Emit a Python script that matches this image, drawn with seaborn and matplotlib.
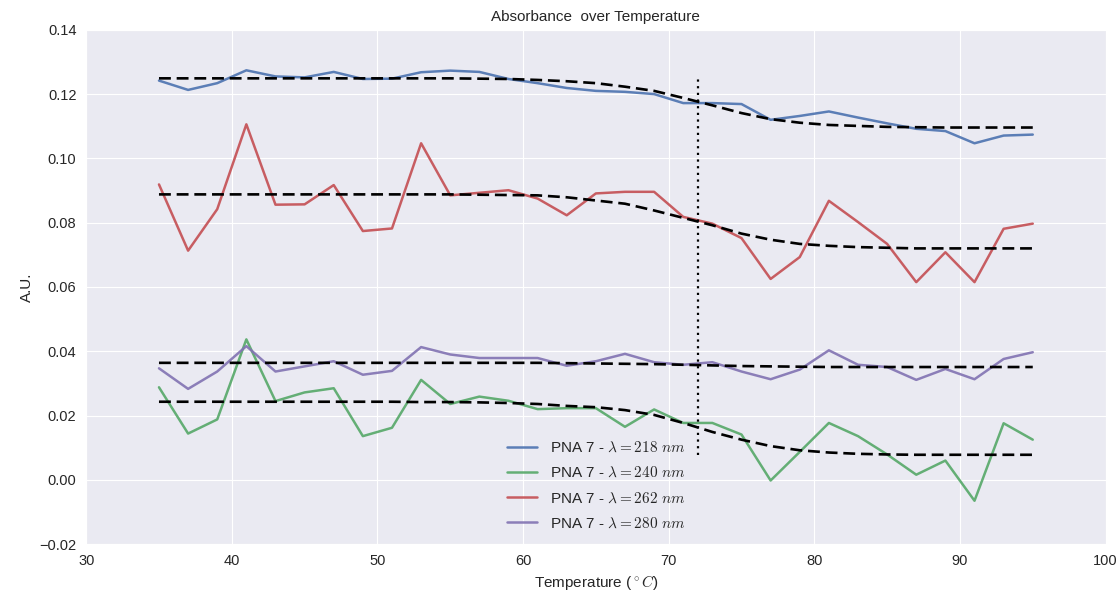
import numpy as np
import pandas as pd
import matplotlib
matplotlib.use('Agg')
import matplotlib.pyplot as plt
import seaborn as sns

# temperatures (degrees C)
temps = list(range(35, 96, 2))

# measured absorbance per wavelength
abs_218 = [0.1242, 0.1213, 0.1234, 0.1274, 0.1255, 0.1252, 0.1269, 0.1247, 0.1248, 0.1268,
           0.1273, 0.1269, 0.1247, 0.1234, 0.1219, 0.1210, 0.1207, 0.1200, 0.1172, 0.1172,
           0.1169, 0.1120, 0.1132, 0.1146, 0.1127, 0.1109, 0.1092, 0.1085, 0.1047, 0.1071,
           0.1074]
abs_240 = [0.0288, 0.0144, 0.0188, 0.0437, 0.0245, 0.0272, 0.0285, 0.0136, 0.0162, 0.0311,
           0.0236, 0.0259, 0.0246, 0.0220, 0.0223, 0.0223, 0.0165, 0.0219, 0.0177, 0.0177,
           0.0141, -0.0002, 0.0087, 0.0177, 0.0136, 0.0079, 0.0016, 0.0060, -0.0065, 0.0176,
           0.0125]
abs_262 = [0.0919, 0.0713, 0.0842, 0.1106, 0.0856, 0.0857, 0.0917, 0.0774, 0.0782, 0.1047,
           0.0885, 0.0893, 0.0901, 0.0875, 0.0823, 0.0891, 0.0896, 0.0896, 0.0818, 0.0797,
           0.0752, 0.0625, 0.0693, 0.0868, 0.0802, 0.0734, 0.0615, 0.0708, 0.0615, 0.0781,
           0.0797]
abs_280 = [0.0347, 0.0283, 0.0337, 0.0416, 0.0337, 0.0353, 0.0369, 0.0327, 0.0339, 0.0413,
           0.0390, 0.0379, 0.0379, 0.0379, 0.0355, 0.0369, 0.0392, 0.0366, 0.0358, 0.0366,
           0.0337, 0.0313, 0.0343, 0.0403, 0.0358, 0.0351, 0.0311, 0.0345, 0.0313, 0.0376,
           0.0397]

# fitted melting curves
fit_218 = [0.1249, 0.1249, 0.1249, 0.1249, 0.1249, 0.1249, 0.1249, 0.1249, 0.1249, 0.1249,
           0.1249, 0.1248, 0.1247, 0.1244, 0.1240, 0.1234, 0.1223, 0.1210, 0.1188, 0.1165,
           0.1141, 0.1122, 0.1111, 0.1104, 0.1101, 0.1098, 0.1097, 0.1096, 0.1096, 0.1096,
           0.1096]
fit_240 = [0.0243, 0.0243, 0.0243, 0.0243, 0.0243, 0.0243, 0.0243, 0.0243, 0.0243, 0.0242,
           0.0242, 0.0241, 0.0239, 0.0236, 0.0230, 0.0226, 0.0217, 0.0202, 0.0177, 0.0149,
           0.0125, 0.0105, 0.0092, 0.0085, 0.0081, 0.0079, 0.0078, 0.0078, 0.0078, 0.0078,
           0.0078]
fit_262 = [0.0888, 0.0888, 0.0888, 0.0888, 0.0888, 0.0888, 0.0888, 0.0888, 0.0888, 0.0888,
           0.0888, 0.0887, 0.0886, 0.0885, 0.0879, 0.0869, 0.0859, 0.0838, 0.0815, 0.0792,
           0.0766, 0.0747, 0.0734, 0.0728, 0.0724, 0.0722, 0.0720, 0.0720, 0.0720, 0.0720,
           0.0720]
fit_280 = [0.0364, 0.0364, 0.0364, 0.0364, 0.0364, 0.0364, 0.0364, 0.0364, 0.0364, 0.0364,
           0.0364, 0.0364, 0.0364, 0.0364, 0.0363, 0.0362, 0.0361, 0.0360, 0.0358, 0.0356,
           0.0354, 0.0353, 0.0352, 0.0351, 0.0351, 0.0351, 0.0351, 0.0351, 0.0351, 0.0351,
           0.0351]

labels = [r'PNA 7 - $\lambda =218\ nm$', r'PNA 7 - $\lambda =240\ nm$',
          r'PNA 7 - $\lambda =262\ nm$', r'PNA 7 - $\lambda =280\ nm$']
colors = ['#4C72B0', '#55A868', '#C44E52', '#8172B2']

tm = 72
tm_low = 0.0078
tm_high = 0.125

sns.set_style('darkgrid')
plt.rcParams['font.family'] = ['Liberation Sans', 'DejaVu Sans']
plt.rcParams['mathtext.fontset'] = 'cm'
plt.rcParams['text.color'] = '#262626'
plt.rcParams['xtick.color'] = '#262626'
plt.rcParams['ytick.color'] = '#262626'
plt.rcParams['axes.labelcolor'] = '#262626'


def main():
    series = [abs_218, abs_240, abs_262, abs_280]
    fits = [fit_218, fit_240, fit_262, fit_280]

    data = pd.DataFrame({
        'Temperature': temps * 4,
        'Absorbance': sum(series, []),
        'label': sum([[lab] * len(temps) for lab in labels], []),
    })

    fig, ax = plt.subplots(figsize=(11.19, 5.96), dpi=100)
    fig.subplots_adjust(left=0.077, right=0.988, top=0.95, bottom=0.087)

    sns.lineplot(data=data, x='Temperature', y='Absorbance', hue='label',
                 hue_order=labels, palette=colors, linewidth=1.8, alpha=0.9, ax=ax)

    for fit in fits:
        sns.lineplot(x=temps, y=fit, color='black', linewidth=1.9,
                     linestyle=(0, (4.5, 2.2)), ax=ax, legend=False)

    ax.vlines(tm, tm_low, tm_high, colors='black', linestyles=(0, (1, 2)), linewidth=1.6)

    ax.set_xlim(30, 100)
    ax.set_ylim(-0.02, 0.14)
    ax.set_xticks(np.arange(30, 101, 10))
    ax.set_yticks(np.arange(-0.02, 0.141, 0.02))
    ax.set_yticklabels([f'{v:.2f}'.replace('-', '\u2212') for v in np.arange(-0.02, 0.141, 0.02)])
    ax.tick_params(labelsize=10.5)
    ax.set_title('Absorbance  over Temperature', fontsize=11)
    ax.set_xlabel(r'Temperature ($^\circ C$)', fontsize=11)
    ax.set_ylabel('A.U.', fontsize=11)

    handles, labs = ax.get_legend_handles_labels()
    ax.legend(handles[:4], labs[:4], loc='lower center', frameon=False, fontsize=11,
              labelspacing=0.7)

    plt.savefig('out.png', dpi=100)
    plt.close()


if __name__ == '__main__':
    main()
